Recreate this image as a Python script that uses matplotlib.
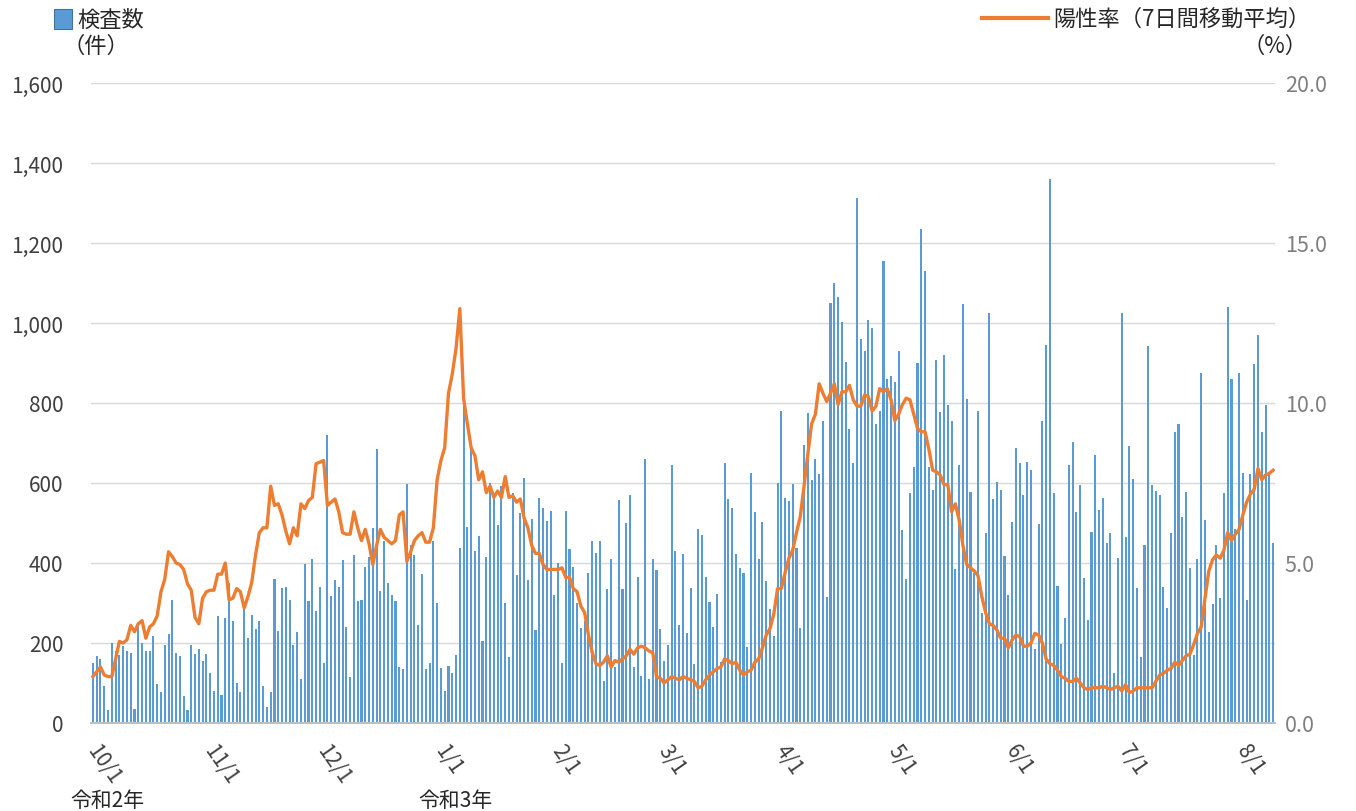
import numpy as np
import pandas as pd
import matplotlib
matplotlib.use('Agg')
import matplotlib.pyplot as plt
import matplotlib.transforms as mtransforms
from matplotlib.ticker import FuncFormatter
from matplotlib.patches import Rectangle
from matplotlib.lines import Line2D

# 検査数 (daily, 2020-10-01 .. 2021-08-09)
tests = [
    151, 168, 160, 93, 32, 201, 180, 170, 193, 180, 176, 35, 239, 201, 180, 180, 218, 97, 77, 195, 222, 307, 176, 168, 67, 33, 195, 172, 185,
    156, 172, 125, 80, 268, 70, 263, 349, 255, 101, 77, 289, 212, 271, 235, 254, 92, 41, 77, 359, 230, 337, 341, 308, 195, 228, 110, 397, 305,
    409, 280, 341, 150, 721, 318, 358, 339, 408, 239, 116, 419, 304, 308, 390, 416, 487, 684, 331, 455, 349, 320, 304, 141, 135, 598, 446, 419, 245,
    372, 135, 150, 454, 300, 137, 81, 143, 126, 170, 438, 794, 491, 688, 430, 467, 204, 414, 599, 576, 494, 592, 300, 166, 574, 369, 524, 613, 358,
    509, 233, 562, 537, 506, 531, 319, 401, 150, 531, 434, 389, 300, 237, 255, 376, 455, 424, 454, 104, 336, 411, 141, 557, 336, 501, 569, 141, 365,
    118, 661, 110, 411, 382, 235, 154, 195, 645, 430, 245, 422, 224, 337, 147, 484, 469, 366, 303, 239, 322, 153, 650, 561, 537, 422, 388, 376, 189,
    625, 527, 411, 503, 355, 286, 218, 600, 780, 562, 556, 598, 438, 238, 696, 775, 607, 659, 623, 755, 315, 1049, 1099, 1065, 1003, 902, 736, 649, 1312,
    960, 930, 1008, 987, 747, 780, 1154, 860, 867, 853, 930, 482, 359, 574, 640, 900, 1234, 1130, 640, 582, 908, 778, 920, 794, 755, 386, 645, 1047, 810,
    577, 374, 780, 275, 476, 1025, 560, 602, 582, 418, 319, 503, 687, 651, 569, 653, 633, 186, 497, 755, 945, 1359, 576, 342, 198, 262, 645, 702, 527,
    595, 363, 257, 478, 670, 532, 562, 450, 475, 125, 413, 1026, 464, 692, 611, 337, 166, 444, 943, 596, 580, 571, 341, 287, 474, 728, 748, 516, 577, 388,
    170, 409, 876, 507, 228, 297, 444, 313, 576, 1040, 861, 484, 876, 626, 307, 622, 898, 970, 727, 794, 622, 451,
]

# 陽性率（7日間移動平均） %
rate = [
    1.45, 1.6, 1.75, 1.5, 1.45, 1.45, 2.0, 2.55, 2.5, 2.6, 3.05, 2.85, 3.1, 3.2, 2.65, 3.0, 3.1, 3.35, 4.1, 4.5, 5.35, 5.2, 5.0, 4.95, 4.8, 4.35, 4.15, 3.3, 3.1,
    3.9, 4.1, 4.15, 4.15, 4.65, 4.65, 5.0, 3.85, 3.9, 4.2, 4.1, 3.6, 3.95, 4.4, 5.25, 5.95, 6.1, 6.1, 7.4, 6.8, 6.85, 6.5, 6.0, 5.6, 6.1, 5.85, 6.85, 6.7, 6.95,
    7.05, 8.1, 8.15, 8.2, 6.8, 6.9, 7.0, 6.6, 5.95, 5.9, 5.9, 6.6, 6.1, 5.7, 6.05, 5.6, 4.95, 5.55, 6.05, 5.8, 5.7, 5.6, 5.7, 6.5, 6.6, 5.05, 5.35, 5.7, 5.85,
    5.95, 5.65, 5.65, 6.1, 7.6, 8.2, 8.6, 10.3, 10.9, 11.7, 12.95, 10.15, 9.35, 8.6, 8.35, 7.6, 7.85, 7.2, 7.4, 7.05, 7.25, 7.05, 7.7, 7.05, 7.1, 6.9, 7.0, 6.4, 6.1,
    5.55, 5.3, 5.3, 4.95, 4.8, 4.8, 4.8, 4.8, 4.85, 4.55, 4.55, 4.2, 4.1, 3.65, 3.45, 2.75, 2.2, 1.85, 1.8, 1.9, 2.1, 1.75, 1.95, 1.9, 2.0, 2.1, 2.3, 2.15, 2.35,
    2.4, 2.35, 2.25, 2.2, 1.45, 1.4, 1.25, 1.35, 1.45, 1.4, 1.35, 1.45, 1.4, 1.35, 1.3, 1.1, 1.15, 1.35, 1.5, 1.6, 1.7, 1.75, 2.0, 1.95, 1.85, 1.9, 1.65, 1.5, 1.6,
    1.65, 1.9, 2.0, 2.35, 2.75, 2.95, 3.4, 4.2, 4.2, 4.7, 5.15, 5.4, 5.95, 6.45, 7.4, 8.4, 9.35, 9.65, 10.6, 10.3, 10.05, 10.3, 10.6, 9.95, 10.35, 10.35, 10.55, 10.1, 9.9,
    9.9, 10.25, 10.2, 9.75, 9.9, 10.45, 10.35, 10.45, 10.1, 9.45, 9.65, 9.95, 10.15, 10.1, 9.65, 9.2, 9.1, 9.1, 8.55, 7.9, 7.85, 7.75, 7.45, 7.45, 6.6, 6.85, 6.35, 5.55, 4.95,
    4.85, 4.75, 4.6, 3.95, 3.45, 3.1, 3.05, 2.9, 2.65, 2.65, 2.35, 2.6, 2.75, 2.7, 2.4, 2.4, 2.5, 2.8, 2.75, 2.5, 2.0, 1.85, 1.8, 1.65, 1.45, 1.4, 1.3, 1.3, 1.4,
    1.25, 1.1, 1.05, 1.1, 1.1, 1.1, 1.15, 1.1, 1.05, 1.1, 1.15, 1.0, 1.2, 0.95, 1.0, 1.1, 1.1, 1.1, 1.1, 1.1, 1.3, 1.5, 1.55, 1.65, 1.7, 1.9, 1.8, 1.95, 2.1, 2.15,
    2.45, 2.8, 3.0, 3.9, 4.75, 5.1, 5.25, 5.15, 5.4, 5.95, 5.7, 5.9, 6.05, 6.5, 6.9, 7.15, 7.3, 7.95, 7.6, 7.75, 7.8, 7.9,
]

era_labels = {'2020-10-01': '令和2年', '2021-01-01': '令和3年'}

plt.rcParams['font.family'] = ['Noto Sans CJK JP', 'DejaVu Sans']

W, H = 1356, 812
dates = pd.date_range('2020-10-01', periods=len(tests))
x = np.arange(len(tests))

fig = plt.figure(figsize=(W / 100, H / 100), dpi=100)
ax = fig.add_axes([91 / W, 1 - 724 / H, (1275 - 91) / W, 640 / H])

ax.bar(x, tests, width=0.55, color='#5B9BD5', zorder=2)
ax.set_xlim(-0.5, len(tests) - 0.5)
ax.set_ylim(0, 1600)
ax.set_yticks(range(0, 1601, 200))
ax.yaxis.set_major_formatter(FuncFormatter(lambda v, p: f'{int(v):,}'))
ax.grid(axis='y', color='#D9D9D9', lw=1, zorder=0)
ax.set_axisbelow(True)
for s in ['top', 'left', 'right']:
    ax.spines[s].set_visible(False)
ax.spines['bottom'].set_color('#BFBFBF')
ax.spines['bottom'].set_linewidth(1.5)
ax.tick_params(axis='y', length=0, pad=20, labelsize=15, labelcolor='#404040')

# month ticks
month_pos = [i for i, d in enumerate(dates) if d.day == 1]
month_lab = [f'{dates[i].month}/1' for i in month_pos]
ax.set_xticks(month_pos)
ax.set_xticklabels(month_lab, rotation=-55, ha='left', va='top',
                   rotation_mode='anchor', fontsize=15, color='#404040')
ax.tick_params(axis='x', length=0, pad=12)
shift = mtransforms.ScaledTranslation(7 / 100, 0, fig.dpi_scale_trans)
for lab in ax.get_xticklabels():
    lab.set_transform(lab.get_transform() + shift)

for d, lab in era_labels.items():
    i = int((pd.Timestamp(d) - dates[0]).days)
    ax.text(i + 3.8, -0.121, lab, transform=ax.get_xaxis_transform(),
            ha='center', va='center', fontsize=15, color='#262626')

ax2 = ax.twinx()
ax2.plot(x, rate, color='#ED7D31', lw=2.4, zorder=3)
ax2.set_ylim(0, 20)
ax2.set_yticks(range(0, 21, 5))
ax2.yaxis.set_major_formatter(FuncFormatter(lambda v, p: f'{v:.1f}'))
for s in ['top', 'left', 'right', 'bottom']:
    ax2.spines[s].set_visible(False)
ax2.tick_params(axis='y', length=0, pad=7, labelsize=15.5, labelcolor='#7F7F7F')

# legend / unit labels
def fx(px):
    return px / W

def fy(py):
    return 1 - py / H

fig.patches.append(Rectangle((fx(54), fy(30)), 18 / W, 20 / H, transform=fig.transFigure,
                             facecolor='#5B9BD5', edgecolor='#41719C', lw=0.8))
fig.text(fx(77), fy(20), '検査数', ha='left', va='center', fontsize=16, color='#262626')
fig.text(fx(63), fy(46), '（件）', ha='left', va='center', fontsize=16, color='#262626')
fig.lines.append(Line2D([fx(982), fx(1048)], [fy(19), fy(19)], transform=fig.transFigure,
                        color='#ED7D31', lw=3))
fig.text(fx(1053), fy(19), '陽性率（7日間移動平均）', ha='left', va='center', fontsize=16, color='#262626')
fig.text(fx(1308), fy(46), '（%）', ha='right', va='center', fontsize=16, color='#262626')

fig.savefig('out.png', dpi=100)
